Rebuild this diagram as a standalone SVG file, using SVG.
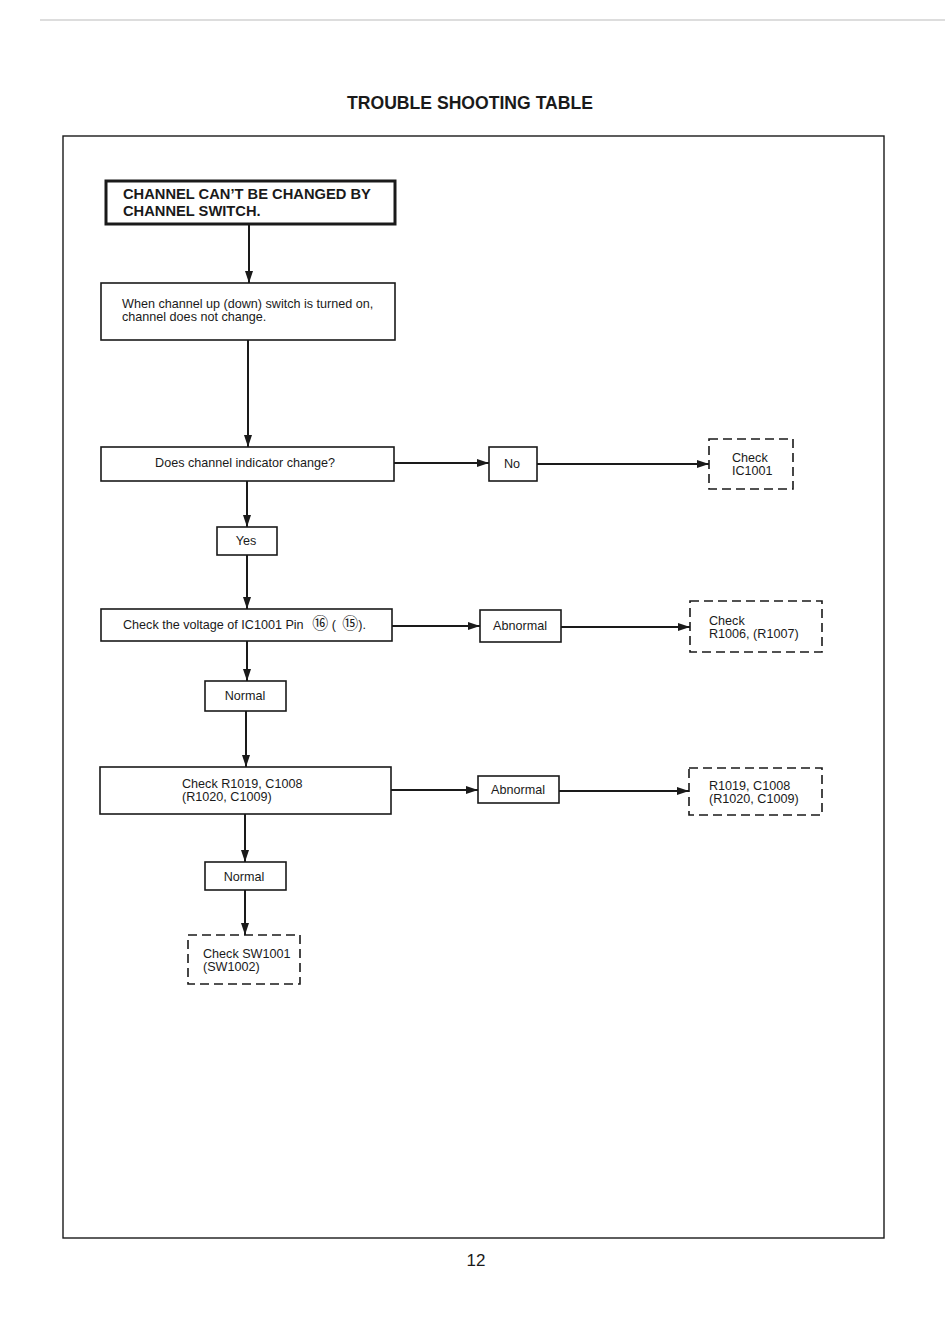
<svg xmlns="http://www.w3.org/2000/svg" width="950" height="1341" viewBox="0 0 950 1341">
<style>
  text{font-family:"Liberation Sans",Arial,sans-serif;fill:#1a1a1a}
  .t{font-size:12.6px}
  .b{fill:#fff;stroke:#1a1a1a;stroke-width:1.6}
  .d{fill:#fff;stroke:#1a1a1a;stroke-width:1.6;stroke-dasharray:9,5}
  .c{stroke:#1a1a1a;stroke-width:2;fill:none}
  .cn{font-family:"DejaVu Sans","Noto Sans CJK JP",sans-serif;font-size:16px}
</style>
<defs>
  <marker id="ah" viewBox="0 0 12 8" refX="12" refY="4" markerWidth="12" markerHeight="8" markerUnits="userSpaceOnUse" orient="auto">
    <path d="M0,0 L12,4 L0,8 Z" fill="#1a1a1a"/>
  </marker>
</defs>
<rect width="950" height="1341" fill="#fff"/>
<line x1="40" y1="20" x2="945" y2="20" stroke="#bbb" stroke-width="1"/>
<text x="470" y="109" text-anchor="middle" font-size="17.6" font-weight="bold">TROUBLE SHOOTING TABLE</text>
<rect x="63" y="136" width="821" height="1102" fill="none" stroke="#1a1a1a" stroke-width="1.4"/>

<g id="connectors">
  <line class="c" x1="249" y1="224" x2="249" y2="283" marker-end="url(#ah)"/>
  <line class="c" x1="248" y1="340" x2="248" y2="447" marker-end="url(#ah)"/>
  <line class="c" x1="394" y1="463" x2="489" y2="463" marker-end="url(#ah)"/>
  <line class="c" x1="537" y1="464" x2="709" y2="464" marker-end="url(#ah)"/>
  <line class="c" x1="247" y1="481" x2="247" y2="527" marker-end="url(#ah)"/>
  <line class="c" x1="247" y1="555" x2="247" y2="609" marker-end="url(#ah)"/>
  <line class="c" x1="392" y1="626" x2="480" y2="626" marker-end="url(#ah)"/>
  <line class="c" x1="561" y1="627" x2="690" y2="627" marker-end="url(#ah)"/>
  <line class="c" x1="247" y1="641" x2="247" y2="681" marker-end="url(#ah)"/>
  <line class="c" x1="246" y1="711" x2="246" y2="767" marker-end="url(#ah)"/>
  <line class="c" x1="391" y1="790" x2="478" y2="790" marker-end="url(#ah)"/>
  <line class="c" x1="559" y1="791" x2="689" y2="791" marker-end="url(#ah)"/>
  <line class="c" x1="245" y1="814" x2="245" y2="862" marker-end="url(#ah)"/>
  <line class="c" x1="245" y1="890" x2="245" y2="935" marker-end="url(#ah)"/>
</g>

<g id="n1">
  <rect x="106" y="181" width="289" height="43" fill="#fff" stroke="#1a1a1a" stroke-width="3"/>
  <text x="123" y="199" font-size="14.7" font-weight="bold">CHANNEL CAN’T BE CHANGED BY</text>
  <text x="123" y="216" font-size="14.7" font-weight="bold">CHANNEL SWITCH.</text>
</g>
<g id="n2">
  <rect class="b" x="101" y="283" width="294" height="57"/>
  <text class="t" x="122" y="308" font-size="12.75">When channel up (down) switch is turned on,</text>
  <text class="t" x="122" y="321" font-size="12.75">channel does not change.</text>
</g>
<g id="n3">
  <rect class="b" x="101" y="447" width="293" height="34"/>
  <text class="t" x="245" y="467" text-anchor="middle" font-size="12.3">Does channel indicator change?</text>
</g>
<g id="n4">
  <rect class="b" x="489" y="447" width="48" height="34"/>
  <text class="t" x="512" y="468" text-anchor="middle" font-size="13">No</text>
</g>
<g id="n5">
  <rect class="d" x="709" y="439" width="84" height="50"/>
  <text class="t" x="732" y="462">Check</text>
  <text class="t" x="732" y="475">IC1001</text>
</g>
<g id="n6">
  <rect class="b" x="217" y="527" width="60" height="28"/>
  <text class="t" x="246" y="545" text-anchor="middle">Yes</text>
</g>
<g id="n7">
  <rect class="b" x="101" y="609" width="291" height="32"/>
  <text class="t" x="123" y="629">Check the voltage of IC1001 Pin  <tspan class="cn" dx="5">⑯</tspan> ( <tspan class="cn" dx="3">⑮</tspan>).</text>
</g>
<g id="n8">
  <rect class="b" x="480" y="610" width="81" height="32"/>
  <text class="t" x="520" y="630" text-anchor="middle" font-size="13.2">Abnormal</text>
</g>
<g id="n9">
  <rect class="d" x="690" y="601" width="132" height="51"/>
  <text class="t" x="709" y="625" font-size="13">Check</text>
  <text class="t" x="709" y="638" font-size="13.5">R1006, (R1007)</text>
</g>
<g id="n10">
  <rect class="b" x="205" y="681" width="81" height="30"/>
  <text class="t" x="245" y="700" text-anchor="middle" font-size="13.4">Normal</text>
</g>
<g id="n11">
  <rect class="b" x="100" y="767" width="291" height="47"/>
  <text class="t" x="182" y="788" font-size="13.1">Check R1019, C1008</text>
  <text class="t" x="182" y="801" font-size="13.1">(R1020, C1009)</text>
</g>
<g id="n12">
  <rect class="b" x="478" y="776" width="81" height="27"/>
  <text class="t" x="518" y="794" text-anchor="middle" font-size="13.2">Abnormal</text>
</g>
<g id="n13">
  <rect class="d" x="689" y="768" width="133" height="47"/>
  <text class="t" x="709" y="790" font-size="13.5">R1019, C1008</text>
  <text class="t" x="709" y="803" font-size="13.5">(R1020, C1009)</text>
</g>
<g id="n14">
  <rect class="b" x="205" y="862" width="81" height="28"/>
  <text class="t" x="244" y="881" text-anchor="middle" font-size="13.4">Normal</text>
</g>
<g id="n15">
  <rect class="d" x="188" y="935" width="112" height="49"/>
  <text class="t" x="203" y="958">Check SW1001</text>
  <text class="t" x="203" y="971">(SW1002)</text>
</g>

<text x="476" y="1266" text-anchor="middle" font-size="17">12</text>
</svg>
